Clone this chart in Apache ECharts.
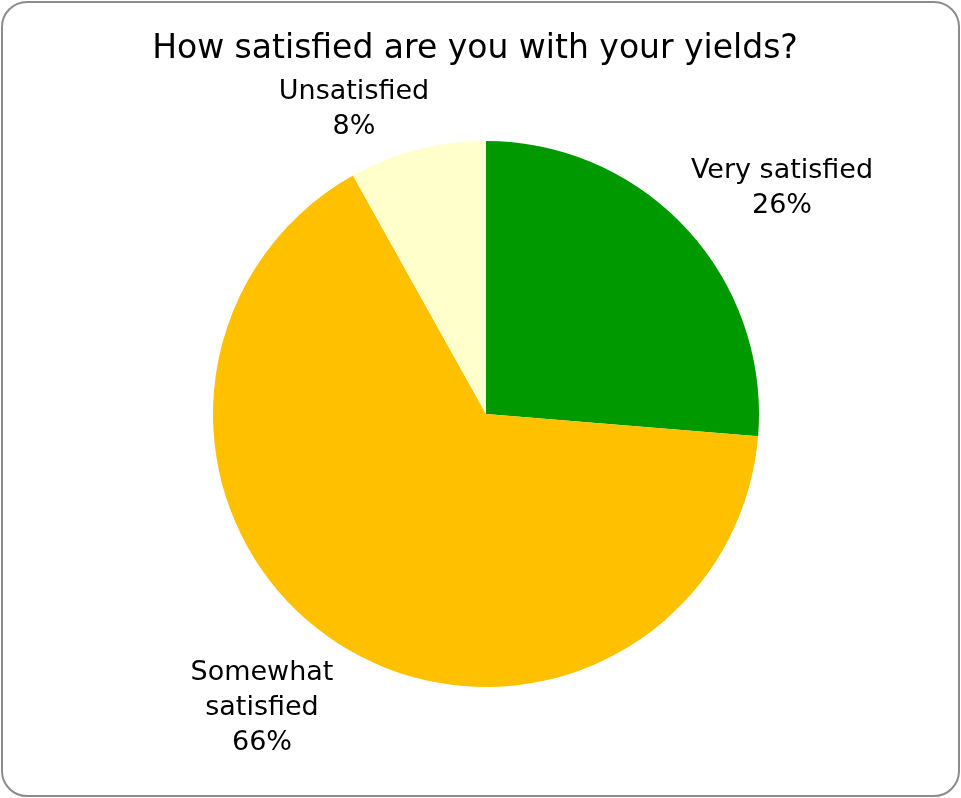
<!DOCTYPE html>
<html>
<head>
<meta charset="utf-8">
<script src="https://cdn.jsdelivr.net/npm/echarts@6/dist/echarts.min.js"></script>
<style>
html,body{margin:0;padding:0;background:#fff;}
#frame{position:absolute;left:1px;top:1px;width:959px;height:796px;border:2px solid #8c8c8c;border-radius:26px;box-sizing:border-box;}
#chart{position:absolute;left:0;top:0;width:961px;height:798px;}
</style>
</head>
<body>
<div id="frame"></div>
<div id="chart"></div>
<script>
const titleText = 'How satisfied are you with your yields?';
const categories = ['Very satisfied', 'Somewhat satisfied', 'Unsatisfied'];
const values = [26.3, 65.6, 8.1];
const labelNames = ['Very satisfied', 'Somewhat\nsatisfied', 'Unsatisfied'];
const colors = ['#009900', '#FFC000', '#FFFFCC'];

const labelPos = [[782, 188], [262, 708], [354, 109]];

const chart = echarts.init(document.getElementById('chart'), null, {renderer: 'canvas'});
chart.setOption({
  animation: false,
  title: {
    text: titleText,
    left: 475,
    textAlign: 'center',
    top: 33,
    padding: 0,
    textStyle: {fontFamily: 'DejaVu Sans', fontSize: 33, fontWeight: 'normal', color: '#000'}
  },
  series: [{
    type: 'pie',
    center: [486, 414],
    radius: 273,
    startAngle: 90,
    clockwise: true,
    avoidLabelOverlap: false,
    data: categories.map((c, i) => ({name: c, value: values[i], itemStyle: {color: colors[i]}})),
    label: {
      show: true,
      position: 'outside',
      formatter: (p) => labelNames[p.dataIndex] + '\n' + Math.round(p.percent) + '%',
      fontFamily: 'DejaVu Sans',
      fontSize: 27,
      lineHeight: 35,
      color: '#000',
      align: 'center'
    },
    labelLine: {show: false},
    labelLayout: (params) => ({
      x: labelPos[params.dataIndex][0],
      y: labelPos[params.dataIndex][1],
      align: 'center',
      verticalAlign: 'middle'
    }),
    emphasis: {disabled: true}
  }]
});
</script>
</body>
</html>
